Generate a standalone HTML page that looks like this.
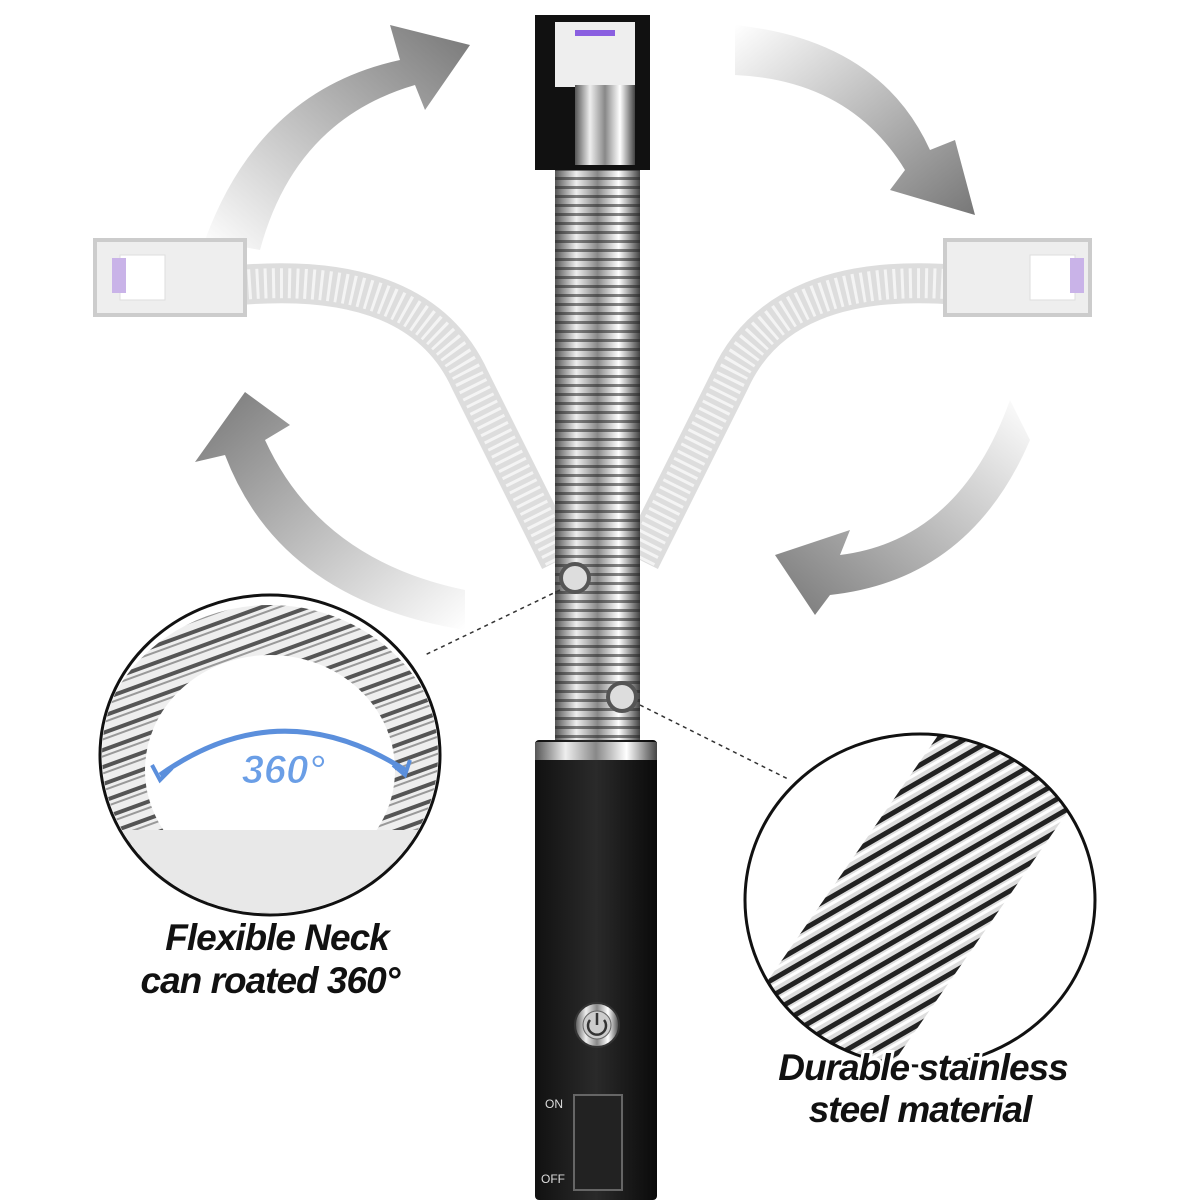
<!DOCTYPE html>
<html><head><meta charset="utf-8"><style>
html,body{margin:0;padding:0;background:#fff;}
svg{display:block}
text{font-family:"Liberation Sans",sans-serif;font-weight:bold;font-style:italic;}
.lbl{paint-order:stroke;stroke:#fff;stroke-width:6px;}
</style></head><body>
<svg width="1200" height="1200" viewBox="0 0 1200 1200" xmlns="http://www.w3.org/2000/svg">
<defs>
<linearGradient id="arrL" x1="0" y1="1" x2="1" y2="0"><stop offset="0" stop-color="#fff"/><stop offset="1" stop-color="#777"/></linearGradient>
<linearGradient id="arrR" x1="0" y1="0" x2="1" y2="1"><stop offset="0" stop-color="#fff"/><stop offset="1" stop-color="#777"/></linearGradient>
<linearGradient id="arrBL" x1="1" y1="1" x2="0" y2="0"><stop offset="0" stop-color="#fff"/><stop offset="1" stop-color="#777"/></linearGradient>
<linearGradient id="arrBR" x1="1" y1="0" x2="0" y2="1"><stop offset="0" stop-color="#fff"/><stop offset="1" stop-color="#777"/></linearGradient>
<linearGradient id="metal" x1="0" x2="1"><stop offset="0" stop-color="#555"/><stop offset="0.25" stop-color="#eee"/><stop offset="0.5" stop-color="#888"/><stop offset="0.75" stop-color="#fff"/><stop offset="1" stop-color="#444"/></linearGradient>
<pattern id="ribs" width="10" height="9" patternUnits="userSpaceOnUse"><rect width="10" height="9" fill="none"/><rect y="6" width="10" height="3" fill="#222" opacity="0.55"/></pattern>
<linearGradient id="body" x1="0" x2="1"><stop offset="0" stop-color="#111"/><stop offset="0.5" stop-color="#2a2a2a"/><stop offset="1" stop-color="#0a0a0a"/></linearGradient>
<pattern id="coil" width="14" height="14" patternUnits="userSpaceOnUse" patternTransform="rotate(-30)"><rect width="14" height="14" fill="#ddd"/><rect width="14" height="5" fill="#222"/><rect y="7" width="14" height="3" fill="#fff"/></pattern>
<pattern id="coil2" width="16" height="16" patternUnits="userSpaceOnUse" patternTransform="rotate(-20)"><rect width="16" height="16" fill="#eee"/><rect y="2" width="16" height="4" fill="#555"/><rect y="9" width="16" height="2" fill="#999"/></pattern>
</defs>

<path d="M205 240 Q260 90 400 60 L390 25 L470 45 L425 110 L415 85 Q295 120 260 250 Z" fill="url(#arrL)"/>
<path d="M735 25 Q880 40 930 150 L955 140 L975 215 L890 190 L905 170 Q850 80 735 75 Z" fill="url(#arrR)"/>
<path d="M465 590 Q320 560 265 440 L290 425 L245 392 L195 462 L225 455 Q280 600 465 630 Z" fill="url(#arrBL)"/>
<path d="M1010 400 Q960 540 840 555 L850 530 L775 555 L815 615 L830 595 Q970 580 1030 440 Z" fill="url(#arrBR)"/>

<path d="M240 285 Q420 270 470 380 Q520 480 560 560" stroke="#ddd" stroke-width="40" fill="none"/>
<path d="M240 285 Q420 270 470 380 Q520 480 560 560" stroke="#f4f4f4" stroke-width="30" fill="none" stroke-dasharray="3 5"/>
<rect x="95" y="240" width="150" height="75" fill="#eee" stroke="#ccc" stroke-width="4"/>
<rect x="120" y="255" width="45" height="45" fill="#fff" stroke="#ddd"/>
<rect x="112" y="258" width="14" height="35" fill="#c9b3e8"/>
<path d="M960 285 Q780 270 730 380 Q680 480 640 560" stroke="#ddd" stroke-width="40" fill="none"/>
<path d="M960 285 Q780 270 730 380 Q680 480 640 560" stroke="#f4f4f4" stroke-width="30" fill="none" stroke-dasharray="3 5"/>
<rect x="945" y="240" width="145" height="75" fill="#eee" stroke="#ccc" stroke-width="4"/>
<rect x="1030" y="255" width="45" height="45" fill="#fff" stroke="#ddd"/>
<rect x="1070" y="258" width="14" height="35" fill="#c9b3e8"/>

<rect x="555" y="165" width="85" height="580" fill="url(#metal)"/>
<rect x="555" y="165" width="85" height="580" fill="url(#ribs)"/>
<rect x="535" y="15" width="115" height="155" fill="#111"/>
<rect x="555" y="22" width="80" height="65" fill="#eee"/>
<rect x="575" y="85" width="60" height="80" fill="url(#metal)"/>
<rect x="575" y="30" width="40" height="6" fill="#8a5fe0"/>
<circle cx="575" cy="578" r="14" fill="#ddd" stroke="#555" stroke-width="4"/>
<circle cx="622" cy="697" r="14" fill="#ddd" stroke="#555" stroke-width="4"/>

<rect x="535" y="740" width="122" height="460" fill="url(#body)" rx="4"/>
<rect x="535" y="742" width="122" height="18" fill="url(#metal)"/>
<circle cx="597" cy="1025" r="22" fill="url(#metal)" stroke="#333" stroke-width="2"/>
<circle cx="597" cy="1025" r="14" fill="#ccc" stroke="#666"/>
<path d="M590 1020 A9 9 0 1 0 604 1020" stroke="#333" stroke-width="2.5" fill="none"/><line x1="597" y1="1013" x2="597" y2="1025" stroke="#333" stroke-width="2.5"/>
<rect x="574" y="1095" width="48" height="95" fill="#222" stroke="#666" stroke-width="2"/>
<text x="545" y="1108" font-size="12" fill="#ddd" style="font-style:normal;font-weight:normal">ON</text>
<text x="541" y="1183" font-size="12" fill="#ddd" style="font-style:normal;font-weight:normal">OFF</text>

<line x1="560" y1="590" x2="425" y2="655" stroke="#333" stroke-width="1.5" stroke-dasharray="4 4"/>
<line x1="640" y1="705" x2="790" y2="780" stroke="#333" stroke-width="1.5" stroke-dasharray="4 4"/>

<clipPath id="cl"><ellipse cx="270" cy="755" rx="168" ry="158"/></clipPath>
<g clip-path="url(#cl)">
<rect x="100" y="590" width="340" height="340" fill="#fff"/>
<ellipse cx="270" cy="770" rx="150" ry="140" fill="none" stroke="url(#coil2)" stroke-width="50"/>
<rect x="100" y="830" width="340" height="110" fill="#e8e8e8"/>
<path d="M160 775 Q280 690 405 770" stroke="#5b8fdc" stroke-width="5" fill="none"/>
<path d="M152 765 L160 780 L172 768" stroke="#5b8fdc" stroke-width="4" fill="none"/>
<path d="M393 765 L405 775 L410 760" stroke="#5b8fdc" stroke-width="4" fill="none"/>
<text x="283" y="783" font-size="40" fill="#6a9ee6" text-anchor="middle" stroke="#fff" stroke-width="1">360°</text>
</g>
<ellipse cx="270" cy="755" rx="170" ry="160" fill="none" stroke="#111" stroke-width="3"/>

<clipPath id="cr"><ellipse cx="920" cy="900" rx="174" ry="165"/></clipPath>
<g clip-path="url(#cr)">
<path d="M790 1080 L1040 720" stroke="url(#coil)" stroke-width="150"/>
</g>
<ellipse cx="920" cy="900" rx="175" ry="166" fill="none" stroke="#111" stroke-width="3"/>

<text class="lbl" x="277" y="950" font-size="37" fill="#111" text-anchor="middle" letter-spacing="-1">Flexible Neck</text>
<text class="lbl" x="270" y="993" font-size="37" fill="#111" text-anchor="middle" letter-spacing="-1">can roated 360°</text>
<text class="lbl" x="923" y="1080" font-size="37" fill="#111" text-anchor="middle" letter-spacing="-1">Durable stainless</text>
<text class="lbl" x="920" y="1122" font-size="37" fill="#111" text-anchor="middle" letter-spacing="-1">steel material</text>
</svg>
</body></html>
